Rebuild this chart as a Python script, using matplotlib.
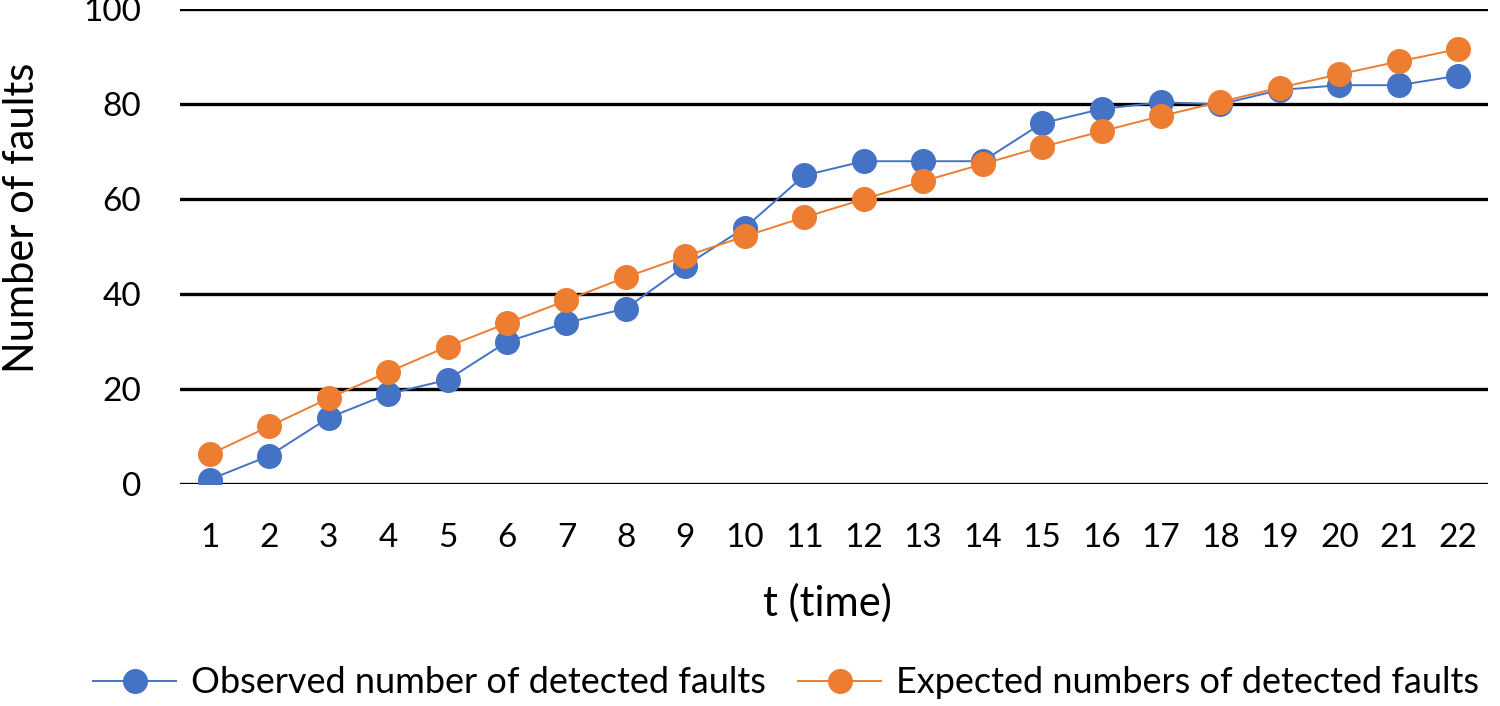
import matplotlib.pyplot as plt

plt.rcParams['font.family'] = ['Lato', 'DejaVu Sans']

# time points and fault counts
t = list(range(1, 23))
observed = [1, 6, 14, 19, 22, 30, 34, 37, 46, 54, 65,
            68, 68, 68, 76, 79, 80.4, 80, 83, 84, 84, 86]
expected = [6.3, 12.2, 18.1, 23.6, 29.0, 33.9, 38.7, 43.6, 48.0, 52.2, 56.2,
            60.0, 63.8, 67.4, 71.0, 74.3, 77.5, 80.5, 83.5, 86.3, 89.0, 91.6]

blue = '#4472C4'
orange = '#ED7D31'

fig = plt.figure(figsize=(15, 7.06), dpi=100)
ax = fig.add_axes([0.12, 0.314, 0.872, 0.673])

for y in range(0, 101, 20):
    ax.axhline(y, color='black', lw=2.4, zorder=1)

ax.plot(t, observed, color=blue, lw=1.4, marker='o', markersize=17,
        markeredgecolor=blue, label='Observed number of detected faults', zorder=3)
ax.plot(t, expected, color=orange, lw=1.4, marker='o', markersize=17,
        markeredgecolor=orange, label='Expected numbers of detected faults', zorder=4)

ax.set_xlim(0.5, 22.5)
ax.set_ylim(0, 100)
ax.set_xticks(t)
ax.set_yticks(range(0, 101, 20))
ax.tick_params(axis='both', length=0, labelsize=24)
ax.tick_params(axis='x', pad=28)
ax.tick_params(axis='y', pad=28)
for s in ax.spines.values():
    s.set_visible(False)

ax.set_xlabel('t (time)', fontsize=30, va='center')
ax.xaxis.set_label_coords(0.495, -0.25)
ax.set_ylabel('Number of faults', fontsize=30, va='center')
ax.yaxis.set_label_coords(-0.121, 0.56)

fig.legend(loc='center', bbox_to_anchor=(0.524, 0.033), ncol=2,
           frameon=False, fontsize=26, handlelength=2.3, columnspacing=0.9,
           handletextpad=0.4)

fig.savefig('out.png', dpi=100)
